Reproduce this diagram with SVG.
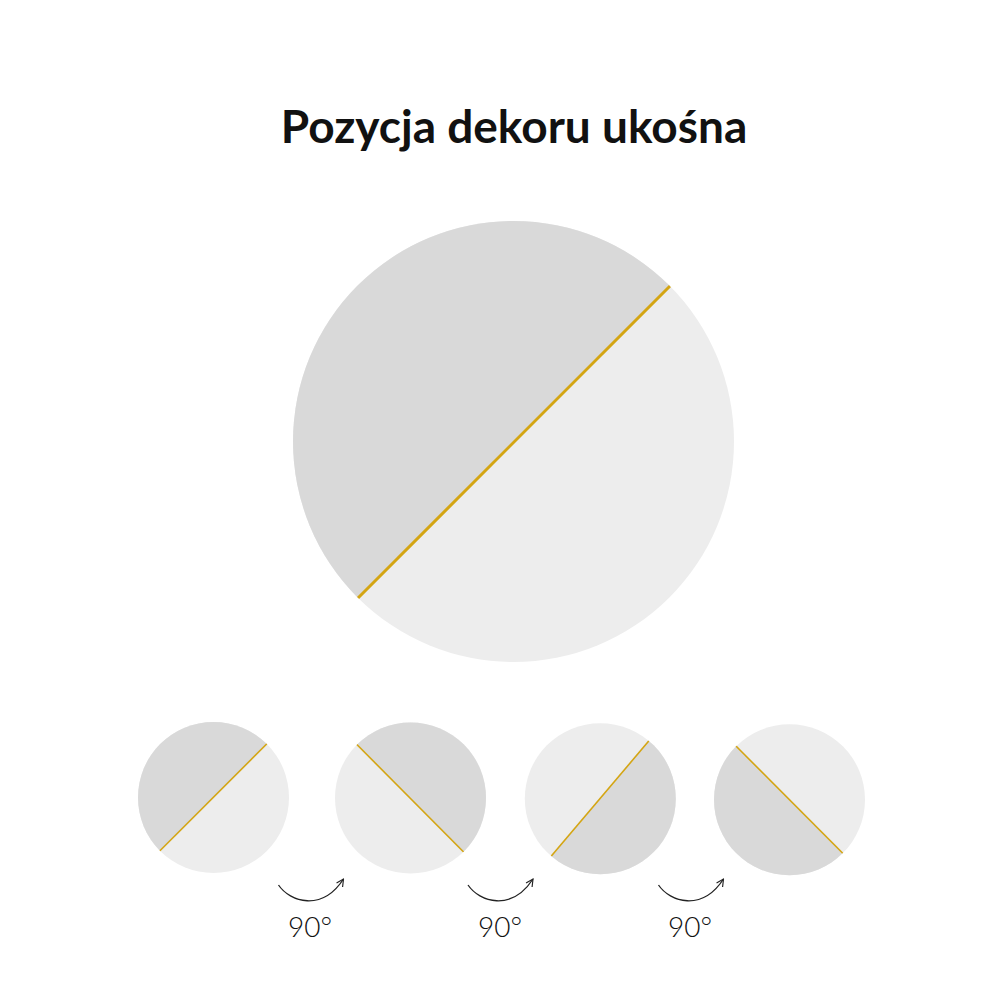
<svg xmlns="http://www.w3.org/2000/svg" width="1000" height="1000" viewBox="0 0 1000 1000">
<style>
.dark{fill:#d9d9d9}
.light{fill:#ededed}
.gold{stroke:#d4a513;fill:none;stroke-linecap:butt}
.arc{stroke:#222;stroke-width:1.3;fill:none}
.lbl{font-family:Lato,"Noto Sans",sans-serif;font-size:28px;font-weight:300;fill:#111}
.title{font-family:Lato,"Noto Sans",sans-serif;font-size:46px;font-weight:700;fill:#111}
</style>
<defs>
<marker id="ah" viewBox="0 0 10 10" refX="9" refY="5" markerWidth="9" markerHeight="9" markerUnits="userSpaceOnUse" orient="auto">
<path d="M1,1 L9,5 L1,9" fill="none" stroke="#222" stroke-width="1.3"/>
</marker>
<clipPath id="k0"><circle cx="513.5" cy="441.5" r="220.5"/></clipPath>
<clipPath id="k1"><circle cx="213.5" cy="797.5" r="75.5"/></clipPath>
<clipPath id="k2"><circle cx="410.5" cy="798" r="75.5"/></clipPath>
<clipPath id="k3"><circle cx="600.3" cy="798.7" r="75.5"/></clipPath>
<clipPath id="k4"><circle cx="789.5" cy="799.7" r="75.5"/></clipPath>
</defs>
<rect width="1000" height="1000" fill="#fff"/>
<text class="title" x="514" y="143" text-anchor="middle">Pozycja dekoru ukośna</text>

<g id="main">
<circle class="light" cx="513.5" cy="441.5" r="220.5"/>
<polygon class="dark" clip-path="url(#k0)" points="358,598 669,287 669,200 280,200 280,598"/>
<line class="gold" clip-path="url(#k0)" x1="348" y1="608" x2="679" y2="277" stroke-width="3"/>
</g>

<g id="c1">
<circle class="light" cx="213.5" cy="797.5" r="75.5"/>
<polygon class="dark" clip-path="url(#k1)" points="160.7,850 266.7,744 266.7,700 120,700 120,850"/>
<line class="gold" clip-path="url(#k1)" x1="150.7" y1="860" x2="276.7" y2="734" stroke-width="1.6"/>
</g>
<g id="c2">
<circle class="light" cx="410.5" cy="798" r="75.5"/>
<polygon class="dark" clip-path="url(#k2)" points="356.7,744.3 463.3,851.7 500,851.7 500,700 356.7,700"/>
<line class="gold" clip-path="url(#k2)" x1="346.7" y1="734.3" x2="473.3" y2="861.7" stroke-width="1.6"/>
</g>
<g id="c3">
<circle class="light" cx="600.3" cy="798.7" r="75.5"/>
<polygon class="dark" clip-path="url(#k3)" points="551.7,855.7 649,740.7 649,700 700,700 700,900 551.7,900"/>
<line class="gold" clip-path="url(#k3)" x1="543.3" y1="865.6" x2="657.4" y2="730.8" stroke-width="1.6"/>
</g>
<g id="c4">
<circle class="light" cx="789.5" cy="799.7" r="75.5"/>
<polygon class="dark" clip-path="url(#k4)" points="736,746 842.7,853.3 842.7,900 700,900 700,746"/>
<line class="gold" clip-path="url(#k4)" x1="726" y1="736" x2="852.7" y2="863.3" stroke-width="1.6"/>
</g>

<g id="connectors">
<path class="arc" d="M278.5,885 C290,902 322,912 343.5,879" marker-end="url(#ah)"/>
<path class="arc" d="M468,885 C479.5,902 511.5,912 533,879" marker-end="url(#ah)"/>
<path class="arc" d="M658.5,885 C670,902 702,912 723.5,879" marker-end="url(#ah)"/>
</g>

<g id="labels">
<text class="lbl" x="288" y="937">90°</text>
<text class="lbl" x="478" y="937">90°</text>
<text class="lbl" x="668" y="937">90°</text>
</g>
</svg>
